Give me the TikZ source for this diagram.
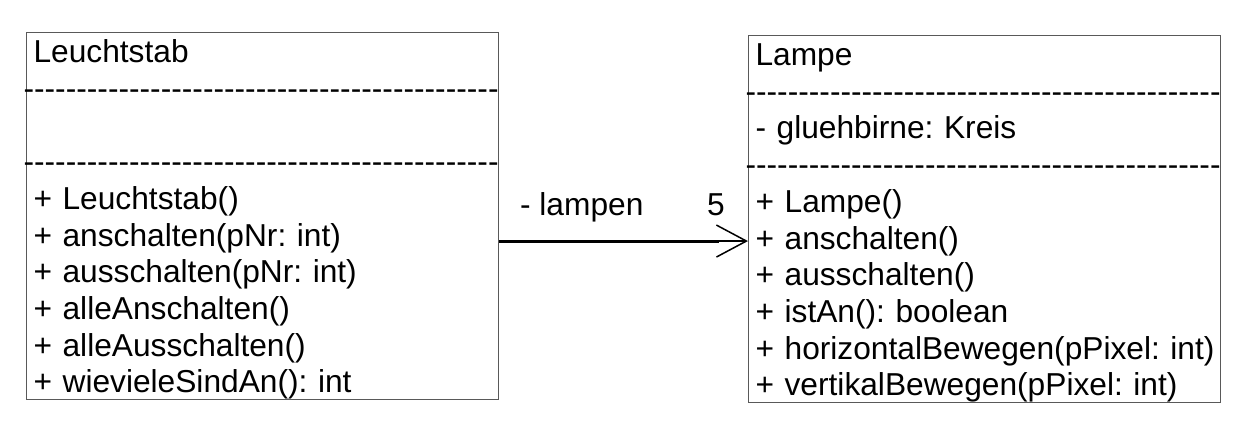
\documentclass[tikz,border=0pt]{standalone}
\usepackage{fontspec}
\setmainfont{Liberation Sans}[Ligatures=TeXOff]
\usetikzlibrary{arrows.meta,positioning,calc}

\newcommand{\sepline}{\mbox{\hspace*{-5pt}\foreach \k in {1,...,45}{-}}}

\begin{document}
\frenchspacing
\begin{tikzpicture}[
  classbox/.style={rectangle,draw=black!65,line width=0.55pt,anchor=north west,align=left,
    text width=229pt,inner xsep=3.5pt,inner ysep=0.5pt,text height=14.5pt,text depth=168pt,
    font=\fontsize{15.85pt}{18.35pt}\selectfont\frenchspacing},
  lbl/.style={inner sep=0pt,anchor=base west,font=\fontsize{15.85pt}{18.35pt}\selectfont},
  assoc/.style={line width=1.5pt,shorten >=14.5pt},
  assochead/.style={line width=0.75pt,-{Straight Barb[length=15pt,width=16pt]}}]
\useasboundingbox (0,0) rectangle (625.5pt,-212pt);
\node[classbox] (leucht) at (13pt,-16pt) {Leuchtstab\\ \sepline\\ \mbox{}\\ \sepline\\
  + Leuchtstab()\\ + anschalten(pNr: int)\\ + ausschalten(pNr: int)\\
  + alleAnschalten()\\ + alleAusschalten()\\ + wievieleSindAn(): int};
\node[classbox] (lampe) at (374pt,-17.5pt) {Lampe\\ \sepline\\ - gluehbirne: Kreis\\ \sepline\\
  + Lampe()\\ + anschalten()\\ + ausschalten()\\ + istAn(): boolean\\
  \mbox{+ horizontalBewegen(pPixel: int)}\\ \mbox{+ vertikalBewegen(pPixel: int)}};
% association
\coordinate (a) at ([yshift=-12.5pt]leucht.east);
\coordinate (b) at (a -| lampe.west);
\draw[assoc] (a) -- (b);
\draw[assochead] ($(b)+(-15pt,0)$) -- (b);
\node[lbl] (role) at ($(a)+(10.3pt,12.75pt)$) {- lampen};
\node[lbl] (mult) at ($(b)+(-20.7pt,12.75pt)$) {5};
\end{tikzpicture}
\end{document}
